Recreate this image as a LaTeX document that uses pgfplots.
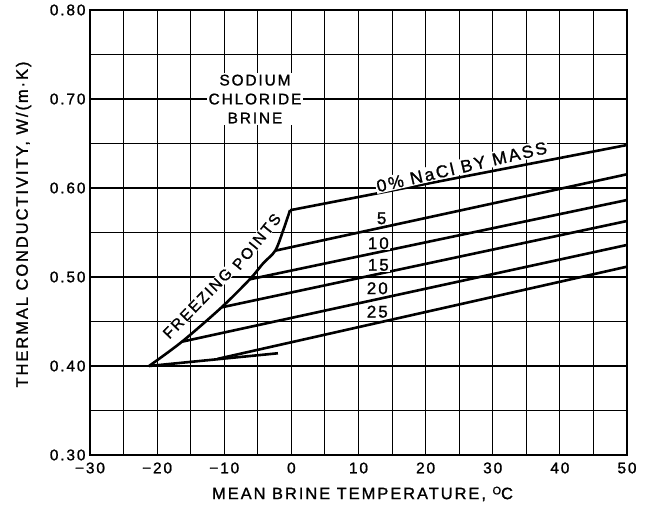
\documentclass[border=0pt]{standalone}
\usepackage{fontspec}
\setmainfont[LetterSpace=12, FakeBold=1.2]{Liberation Sans}
\usepackage{pgfplots}
\pgfplotsset{compat=1.18}
\tikzset{
  curve/.style={black, line width=2.6bp},
  lbl/.style={fill=white, inner sep=1.2bp, font=\fontsize{15.5}{19}\selectfont},
}

\begin{document}
\begin{tikzpicture}
\begin{axis}[
  scale only axis,
  width=537bp, height=445bp,
  xmin=-30, xmax=50, ymin=0.30, ymax=0.80,
  xtick={-30,-20,-10,0,10,20,30,40,50},
  xticklabels={−30,−20,−10,0,10,20,30,40,50},
  minor xtick={-25,-15,-5,5,15,25,35,45},
  ytick={0.3,0.4,0.5,0.6,0.7,0.8},
  yticklabels={0.30,0.40,0.50,0.60,0.70,0.80},
  minor ytick={0.35,0.45,0.55,0.65,0.75},
  grid=both,
  major grid style={black, line width=1.1bp},
  minor grid style={black, line width=1.1bp},
  major tick length=0pt, minor tick length=0pt,
  axis line style={line width=1.8bp},
  tick label style={font=\fontsize{15.5}{18}\selectfont},
  xticklabel style={yshift=-4bp},
  yticklabel style={xshift=-1bp},
  xlabel={MEAN BRINE TEMPERATURE, \raisebox{0.55ex}{\fontsize{11}{11}\selectfont O}C},
  ylabel={THERMAL CONDUCTIVITY, W/(m·K)},
  label style={font=\fontsize{16.5}{20}\selectfont},
  xlabel style={at={(axis description cs:0.5075,-0.0876)}, anchor=center},
  ylabel style={at={(axis description cs:-0.1238,0.518)}, anchor=center},
]
% conductivity lines for each NaCl mass fraction
\addplot[curve] coordinates {(-0.2,0.575) (50,0.6483)};   % 0 %
\addplot[curve] coordinates {(-2.4,0.5296) (50,0.6154)};  % 5 %
\addplot[curve] coordinates {(-6.2,0.4974) (50,0.5865)};  % 10 %
\addplot[curve] coordinates {(-10.4,0.4659) (50,0.5629)}; % 15 %
\addplot[curve] coordinates {(-16.3,0.4273) (50,0.5360)}; % 20 %
\addplot[curve] coordinates {(-11.0,0.4080) (50,0.5116)}; % 25 %
\addplot[curve] coordinates {(-21.2,0.400) (-2.0,0.4143)};
% freezing-point curve
\addplot[curve, smooth, tension=0.5] coordinates {
  (-21.2,0.400) (-16.3,0.4273) (-10.4,0.4659) (-6.2,0.4974)
  (-4.2,0.5154) (-2.4,0.5296) (-1.2,0.5528) (-0.2,0.575)};

\node[lbl, align=center] at (axis cs:-5.42,0.70) {SODIUM\\CHLORIDE\\BRINE};
\node[lbl, rotate=13, font=\fontsize{17.5}{20}\selectfont] at (axis cs:25.37,0.6239) {0\% NaCl BY MASS};
\node[lbl, font=\fontsize{17}{20}\selectfont] at (axis cs:13.45,0.5659) {5};
\node[lbl, font=\fontsize{17}{20}\selectfont] at (axis cs:12.95,0.5379) {10};
\node[lbl, font=\fontsize{17}{20}\selectfont] at (axis cs:12.95,0.5135) {15};
\node[lbl, font=\fontsize{17}{20}\selectfont] at (axis cs:12.8,0.4873) {20};
\node[lbl, font=\fontsize{17}{20}\selectfont] at (axis cs:12.8,0.4610) {25};
\node[lbl, rotate=45.7, inner sep=0.6bp] at (axis cs:-14.0,0.4704) {FREEZING};
\node[lbl, rotate=51, inner sep=0.6bp] at (axis cs:-5.17,0.5397) {POINTS};
\end{axis}
\pgfresetboundingbox
\path ([shift={(-90bp,-53bp)}]current axis.south west) rectangle ([shift={(19bp,10bp)}]current axis.north east);
\end{tikzpicture}
\end{document}
